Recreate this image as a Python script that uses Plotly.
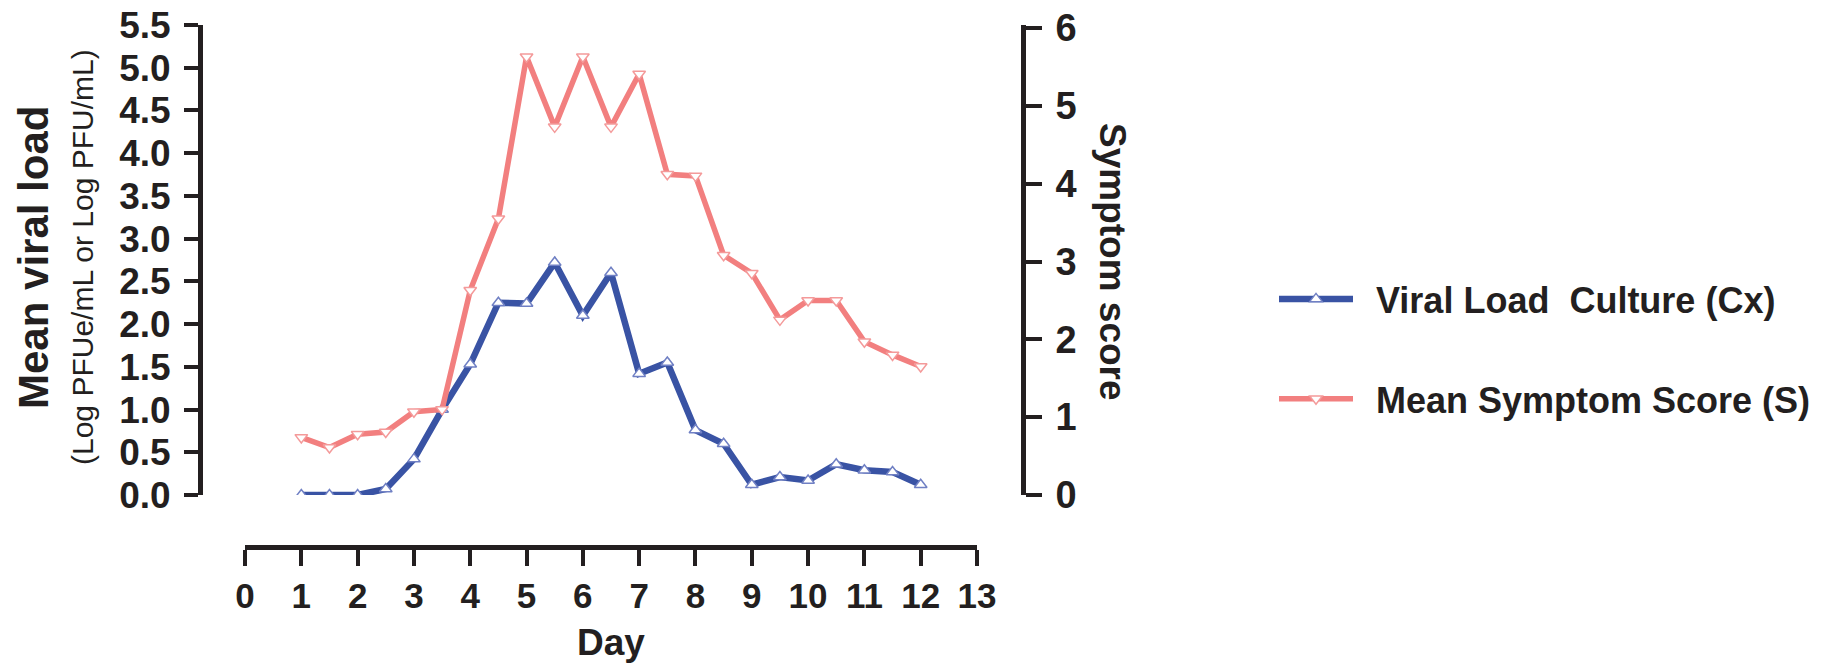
import plotly.graph_objects as go

W, H = 1824, 670

days = [1, 1.5, 2, 2.5, 3, 3.5, 4, 4.5, 5, 5.5, 6, 6.5, 7, 7.5, 8, 8.5, 9, 9.5, 10, 10.5, 11, 11.5, 12]
viral_load = [0.0, 0.0, 0.0, 0.07, 0.42, 1.0, 1.53, 2.25, 2.24, 2.72, 2.1, 2.6, 1.42, 1.55, 0.76, 0.6,
              0.12, 0.21, 0.17, 0.36, 0.29, 0.27, 0.12]
symptom_score = [0.74, 0.61, 0.78, 0.81, 1.07, 1.1, 2.63, 3.55, 5.63, 4.73, 5.63, 4.73, 5.41, 4.12, 4.1,
                 3.08, 2.85, 2.25, 2.5, 2.5, 1.97, 1.8, 1.65]

x_ticks = list(range(0, 14))
y_left_ticks = [0, 0.5, 1, 1.5, 2, 2.5, 3, 3.5, 4, 4.5, 5, 5.5]
y_left_labels = ["0.0", "0.5", "1.0", "1.5", "2.0", "2.5", "3.0", "3.5", "4.0", "4.5", "5.0", "5.5"]
y_right_ticks = [0, 1, 2, 3, 4, 5, 6]

BLUE = "#3953a4"
RED = "#f27f7f"
INK = "#231f20"
FONT = "Liberation Sans, Arial, Helvetica, sans-serif"


def px(x):
    return x / W


def py(y):
    return 1 - y / H


fig = go.Figure()
fig.add_trace(go.Scatter(
    x=days, y=viral_load, mode="lines+markers", name="\u2002Viral Load\u00a0 Culture (Cx)",
    line=dict(color=BLUE, width=6.5),
    marker=dict(symbol="triangle-up", size=11, color="white", line=dict(color="#7080c4", width=1.5)),
    xaxis="x", yaxis="y", legendgroup="a",
))
fig.add_trace(go.Scatter(
    x=days, y=symptom_score, mode="lines+markers", name="\u2002Mean Symptom Score (S)",
    line=dict(color=RED, width=5.5),
    marker=dict(symbol="triangle-down", size=11, color="white", line=dict(color="#f49a9a", width=1.5)),
    xaxis="x", yaxis="y2", legendgroup="b",
))

ydom = [py(495), py(25)]

fig.update_layout(
    template="none",
    width=W, height=H,
    margin=dict(l=0, r=0, t=0, b=0, pad=0, autoexpand=False),
    paper_bgcolor="white", plot_bgcolor="white",
    font=dict(family=FONT, color=INK),
    xaxis=dict(
        domain=[px(245), px(977)], range=[0, 13], anchor="free", position=py(547),
        tickvals=x_ticks, ticktext=[str(t) for t in x_ticks], automargin=False,
        showline=True, linewidth=5, linecolor=INK, ticks="outside", ticklen=16, tickwidth=4,
        tickcolor=INK, showgrid=False, zeroline=False,
        tickfont=dict(size=35, family=FONT, color=INK, weight="bold"),
    ),
    yaxis=dict(
        domain=ydom, range=[0, 5.5], anchor="free", position=px(200), automargin=False,
        tickvals=y_left_ticks, ticktext=y_left_labels,
        showline=True, linewidth=5, linecolor=INK, ticks="outside", ticklen=14, tickwidth=4,
        tickcolor=INK, showgrid=False, zeroline=False, ticklabelstandoff=6,
        tickfont=dict(size=37, family=FONT, color=INK, weight="bold"),
    ),
    yaxis2=dict(
        overlaying="y", side="right", range=[0, 6 + 3 / 77.83], anchor="free", position=px(1023),
        tickvals=y_right_ticks, automargin=False,
        showline=True, linewidth=5, linecolor=INK, ticks="outside", ticklen=16, tickwidth=4,
        tickcolor=INK, showgrid=False, zeroline=False, ticklabelstandoff=6,
        tickfont=dict(size=38, family=FONT, color=INK, weight="bold"),
    ),
    legend=dict(
        x=px(1274), y=py(349), xanchor="left", yanchor="middle",
        font=dict(size=36, family=FONT, color=INK, weight="bold"),
        tracegroupgap=50, itemwidth=74, bgcolor="rgba(0,0,0,0)", borderwidth=0,
    ),
    showlegend=True,
)

annotations = [
    dict(text="<b>Mean viral load</b>", x=px(33), y=py(258), textangle=-90,
         font=dict(size=42, family=FONT, color=INK)),
    dict(text="(Log PFUe/mL or Log PFU/mL)", x=px(82), y=py(257), textangle=-90,
         font=dict(size=30, family=FONT, color=INK)),
    dict(text="<b>Symptom score</b>", x=px(1112), y=py(262), textangle=90,
         font=dict(size=37, family=FONT, color=INK)),
    dict(text="<b>Day</b>", x=px(611), y=py(642),
         font=dict(size=37, family=FONT, color=INK)),
]
for a in annotations:
    a.update(xref="paper", yref="paper", showarrow=False, xanchor="center", yanchor="middle")
fig.update_layout(annotations=annotations)

fig.write_html("out.html")
